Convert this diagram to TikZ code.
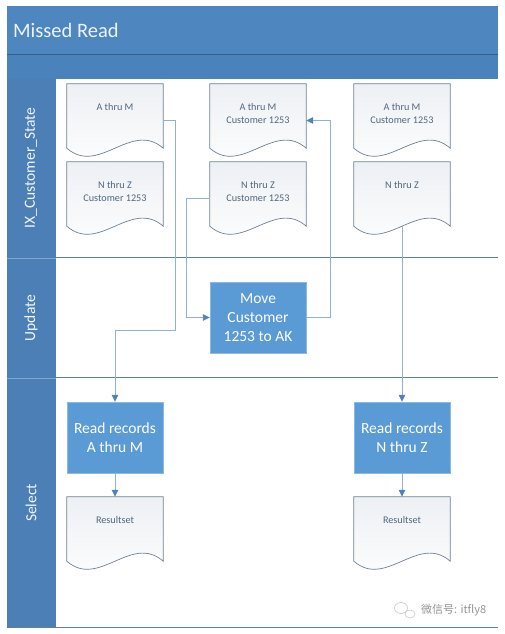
\documentclass[tikz,border=0pt]{standalone}
\usepackage{fontspec}
\setmainfont{Carlito}
\newfontfamily\cjkfont{Noto Sans CJK SC}
\usetikzlibrary{arrows.meta,calc,backgrounds}
\definecolor{bandblue}{HTML}{4E87BF}
\definecolor{subband}{HTML}{4A83BB}
\definecolor{laneblue}{HTML}{4B7FB6}
\definecolor{boxblue}{HTML}{5B9BD5}
\definecolor{boxedge}{HTML}{8DB8E2}
\definecolor{docedge}{HTML}{6E8294}
\definecolor{doctext}{HTML}{51677C}
\definecolor{connline}{HTML}{8FB2CF}
\definecolor{tipblue}{HTML}{4F81BD}
\definecolor{laneline}{HTML}{5E7F9D}
\definecolor{docshade}{HTML}{EDF0F4}

% outline of a document shape around a named node
\newcommand{\docpath}[1]{(#1.north west) -- (#1.north east) -- ($(#1.south east)+(0,9)$)
  .. controls ($(#1.south east)+(-32,37)$) and ($(#1.south west)+(32,-19)$) .. ($(#1.south west)+(0,9)$) -- cycle}

\begin{document}
\begin{tikzpicture}
  [x=1pt,y=1pt,
   docnode/.style={minimum width=96pt,minimum height=73pt,inner sep=0pt},
   doclabel/.style={anchor=north,yshift=-16pt,align=center,text=doctext,font=\fontsize{10.2}{13}\selectfont},
   procbox/.style={fill=boxblue,draw=boxedge,minimum width=96pt,minimum height=71pt,align=center,
     text=white,font=\fontsize{15.5}{19}\selectfont},
   conn/.style={draw=connline,line width=0.9pt,-{Triangle[length=7pt,width=6.5pt,color=tipblue]}},
   lanelabel/.style={rotate=90,text=white!92!bandblue,font=\fontsize{15.5}{18}\selectfont}]
  \useasboundingbox (0,0) rectangle (505,634);

  % pool and lanes
  \fill[bandblue] (7,580) rectangle (498,628);
  \fill[subband] (7,555) rectangle (498,580);
  \draw[bandblue!70!black,line width=0.8pt] (7,580) -- (498,580);
  \fill[laneblue] (7,6) rectangle (56,555);
  \draw[laneline,line width=1pt] (56,376) -- (498,376) (56,256) -- (498,256) (7,6) -- (498,6);
  \draw[white!30!laneblue,line width=0.6pt] (7,376) -- (56,376) (7,256) -- (56,256);

  \node (title)[anchor=west,inner sep=0pt,text=white!90!bandblue,font=\fontsize{20.5}{24}\selectfont] at (13,604) {Missed Read};
  \node (lane1)[lanelabel] at (31,466) {IX\_Customer\_State};
  \node (lane2)[lanelabel] at (31,316) {Update};
  \node (lane3)[lanelabel] at (31,131) {Select};

  % documents
  \node (am1)[docnode,label={[doclabel]north:A thru M}] at (115,513.5) {};
  \node (amc2)[docnode,label={[doclabel]north:{A thru M\\Customer 1253}}] at (258,513.5) {};
  \node (amc3)[docnode,label={[doclabel]north:{A thru M\\Customer 1253}}] at (402,513.5) {};
  \node (ntz1)[docnode,label={[doclabel]north:{N thru Z\\Customer 1253}}] at (115,435.5) {};
  \node (ntz2)[docnode,label={[doclabel]north:{N thru Z\\Customer 1253}}] at (258,435.5) {};
  \node (ntz3)[docnode,label={[doclabel]north:N thru Z}] at (402,435.5) {};
  \node (rsa)[docnode,label={[doclabel]north:Resultset}] at (115,100.5) {};
  \node (rsn)[docnode,label={[doclabel]north:Resultset}] at (402,100.5) {};

  \begin{scope}[on background layer]
    \foreach \d in {am1,amc2,amc3,ntz1,ntz2,ntz3,rsa,rsn}
      \shade[top color=docshade,bottom color=white] \docpath{\d};
  \end{scope}
  \foreach \d in {am1,amc2,amc3,ntz1,ntz2,ntz3,rsa,rsn}
    \draw[docedge,line width=0.7pt] \docpath{\d};

  % process boxes
  \node (move)[procbox] at (258,316.5) {Move\\Customer\\1253 to AK};
  \node (rra)[procbox] at (115,196.5) {Read records\\A thru M};
  \node (rrn)[procbox] at (402,196.5) {Read records\\N thru Z};

  % connectors
  \coordinate (bend1) at (175,304);
  \draw[conn] (am1.east) -| (bend1) -| (rra.north);
  \draw[conn] (ntz2.west) -| ($(move.west)+(-23,0)$) -- (move.west);
  \draw[conn] (move.east) -- ++(24,0) |- (amc2.east);
  \draw[conn] ($(ntz3.south)+(0,9)$) -- (rrn.north);
  \foreach \from/\to in {rra/rsa,rrn/rsn}
    \draw[conn] (\from) -- (\to);

  % watermark
  \draw[gray!45,line width=0.6pt] (401,26) ellipse (6.5 and 5.5) (410,20) ellipse (5 and 4);
  \node (mark)[anchor=west,inner sep=0pt,text=gray!85,font=\cjkfont\fontsize{11}{13}\selectfont] at (421,24) {微信号: itfly8};

\end{tikzpicture}
\end{document}
